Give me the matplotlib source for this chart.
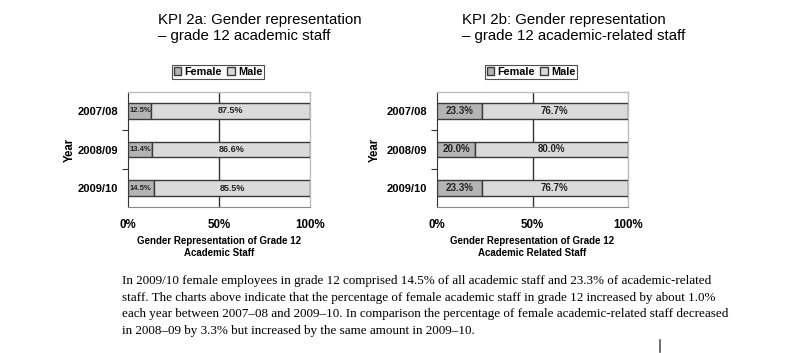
import matplotlib
matplotlib.use("Agg")
import matplotlib.pyplot as plt
from matplotlib.patches import Patch
from matplotlib.lines import Line2D
import numpy as np

plt.rcParams["font.family"] = ["Liberation Sans", "DejaVu Sans"]

years = ["2007/08", "2008/09", "2009/10"]
female_academic = [12.5, 13.4, 14.5]
male_academic = [87.5, 86.6, 85.5]
female_related = [23.3, 20.0, 23.3]
male_related = [76.7, 80.0, 76.7]
xticks = [0, 50, 100]
xtick_labels = ["0%", "50%", "100%"]

W, H = 800, 353
fig = plt.figure(figsize=(8, 3.53), dpi=100)
fig.patch.set_facecolor("white")

FEM = "#b4b4b4"
MAL = "#dadada"
EDGE = "#3a3a3a"

def px(x0, y0, x1, y1):
    return [x0 / W, 1 - y1 / H, (x1 - x0) / W, (y1 - y0) / H]

def panel(rect, fem, mal, title, title_x, xlabel, xlabel_x, legend_rect, ylabel_x, small):
    ax = fig.add_axes(px(*rect))
    y = np.arange(len(years))
    ax.barh(y, fem, height=0.41, color=FEM, edgecolor=EDGE, linewidth=1.0, zorder=3)
    ax.barh(y, mal, left=fem, height=0.41, color=MAL, edgecolor=EDGE, linewidth=1.0, zorder=3)
    for i in range(len(years)):
        if small:
            ax.text(1.0, y[i], f"{fem[i]:.1f}%", ha="left", va="center", fontsize=5.5,
                    fontweight="bold", color="#222222", zorder=4)
        else:
            ax.text(fem[i] / 2, y[i], f"{fem[i]:.1f}%", ha="center", va="center", fontsize=7,
                    fontweight="bold", color="#222222", zorder=4)
        ax.text(fem[i] + mal[i] / 2, y[i], f"{mal[i]:.1f}%", ha="center", va="center",
                fontsize=6.5 if small else 7, fontweight="bold", color="#222222", zorder=4)
    ax.set_xlim(0, 100)
    ax.set_ylim(2.48, -0.48)
    ax.set_xticks(xticks)
    ax.set_xticklabels(xtick_labels, fontsize=8.3, fontweight="bold")
    ax.set_yticks(y)
    ax.set_yticklabels(years, fontsize=8, fontweight="bold")
    ax.set_yticks([0.5, 1.5], minor=True)
    ax.tick_params(axis="y", which="major", length=0, pad=7)
    ax.tick_params(axis="y", which="minor", length=4, width=0.8, color="#333333")
    ax.tick_params(axis="x", length=0, pad=9)
    ax.axvline(50, color="#333333", linewidth=1.0, zorder=1)
    for s in ["top", "right"]:
        ax.spines[s].set_color("#bdbdbd")
        ax.spines[s].set_linewidth(1.0)
    ax.spines["left"].set_color("#333333")
    ax.spines["bottom"].set_color("#888888")
    ax.set_axisbelow(True)
    fig.text(ylabel_x / W, 1 - 150 / H, "Year", rotation=90, ha="center", va="center",
             fontsize=8.3, fontweight="bold")
    fig.text(xlabel_x / W, 1 - 247 / H, xlabel, ha="center", va="center", fontsize=7,
             fontweight="bold", linespacing=1.35)
    fig.text(title_x / W, 1 - 28 / H, title, ha="left", va="center", fontsize=10.8,
             linespacing=1.2)
    handles = [Patch(facecolor=FEM, edgecolor=EDGE, label="Female"),
               Patch(facecolor=MAL, edgecolor=EDGE, label="Male")]
    lx = (legend_rect[0] + legend_rect[2]) / 2 / W
    ly = 1 - (legend_rect[1] + legend_rect[3]) / 2 / H
    leg = fig.legend(handles=handles, loc="center", bbox_to_anchor=(lx, ly), ncol=2,
                     frameon=True, fancybox=False, prop={"weight": "bold", "size": 7.8},
                     handlelength=0.7, handleheight=0.7, handletextpad=0.3,
                     columnspacing=0.5, borderpad=0.15, borderaxespad=0)
    leg.get_frame().set_edgecolor("#222222")
    leg.get_frame().set_linewidth(0.8)
    return ax

panel((128, 92, 310, 207), female_academic, male_academic,
      "KPI 2a: Gender representation\n– grade 12 academic staff", 158,
      "Gender Representation of Grade 12\nAcademic Staff", 219,
      (174, 65, 262, 79), 70, True)
panel((437, 92, 628, 207), female_related, male_related,
      "KPI 2b: Gender representation\n– grade 12 academic-related staff", 462,
      "Gender Representation of Grade 12\nAcademic Related Staff", 532,
      (485, 65, 577, 79), 375, False)

para = ("In 2009/10 female employees in grade 12 comprised 14.5% of all academic staff and 23.3% of academic-related\n"
        "staff. The charts above indicate that the percentage of female academic staff in grade 12 increased by about 1.0%\n"
        "each year between 2007–08 and 2009–10. In comparison the percentage of female academic-related staff decreased\n"
        "in 2008–09 by 3.3% but increased by the same amount in 2009–10.")
fig.text(122 / W, 1 - 275 / H, para, ha="left", va="top", family="Liberation Serif",
         fontsize=9.45, linespacing=1.52)

fig.add_artist(Line2D([660 / W, 660 / W], [1 - 340 / H, 1 - 352 / H], color="#555555",
                      linewidth=1.2))

fig.savefig("out.png", dpi=100, facecolor="white")
